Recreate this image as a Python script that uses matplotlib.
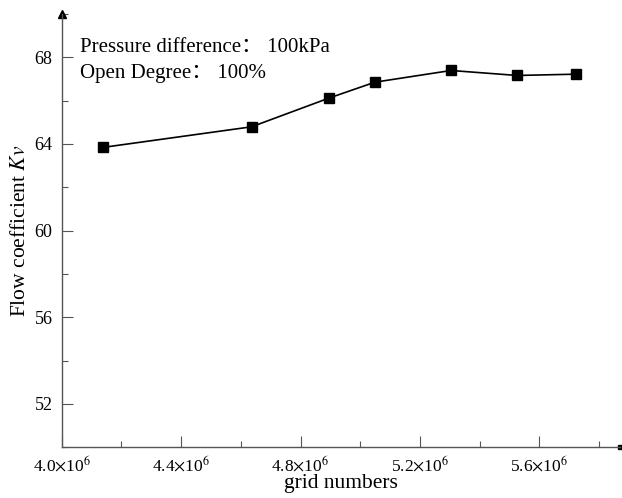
import numpy as np
import matplotlib
matplotlib.use("Agg")
from matplotlib import pyplot as plt
from matplotlib.ticker import MultipleLocator, FuncFormatter

plt.rcParams["font.family"] = ["Liberation Serif", "Noto Sans CJK SC"]
plt.rcParams["mathtext.fontset"] = "stix"

# grid numbers vs flow coefficient Kv
grid_numbers = [4.139e6, 4.636e6, 4.894e6, 5.049e6, 5.304e6, 5.525e6, 5.723e6]
kv_values = [63.84, 64.79, 66.11, 66.85, 67.39, 67.16, 67.22]

axis_color = "#555555"

fig = plt.figure(figsize=(6.22, 4.98), dpi=100)
ax = fig.add_axes([0.099, 0.102, 0.898, 0.870])

ax.plot(grid_numbers, kv_values, color="black", lw=1.2, marker="s",
        markersize=6.5, markerfacecolor="black", markeredgecolor="black")

ax.set_xlim(4.0e6, 5.87e6)
ax.set_ylim(50, 70)

ax.xaxis.set_major_locator(MultipleLocator(0.4e6))
ax.xaxis.set_minor_locator(MultipleLocator(0.2e6))
ax.yaxis.set_minor_locator(MultipleLocator(2))
ax.set_yticks([52, 56, 60, 64, 68])

ax.xaxis.set_major_formatter(FuncFormatter(lambda v, p: r"%.1f$\times$10$^{6}$" % (v / 1e6)))

ax.tick_params(which="both", direction="in", colors=axis_color, labelcolor="black")
ax.tick_params(which="major", length=8, width=0.8)
ax.tick_params(which="minor", length=4, width=0.8)
ax.tick_params(axis="x", pad=6, labelsize=12.5)
ax.tick_params(axis="y", pad=6.5, labelsize=13)

for s in ["top", "right"]:
    ax.spines[s].set_visible(False)
for s in ["left", "bottom"]:
    ax.spines[s].set_color(axis_color)
    ax.spines[s].set_linewidth(1.0)

# axis arrows
ax.plot(0, 1, marker="^", color="black", markersize=6, transform=ax.transAxes, clip_on=False)
ax.plot(1, 0, marker="s", color="black", markersize=3, transform=ax.transAxes, clip_on=False)

ax.set_xlabel("grid numbers", fontsize=15.5, labelpad=-1)
ax.set_ylabel(r"Flow coefficient $\mathit{Kv}$", fontsize=15.5, labelpad=3)

ax.text(0.033, 0.912, "Pressure difference： 100kPa", transform=ax.transAxes,
        fontsize=15, va="baseline", ha="left")
ax.text(0.033, 0.852, "Open Degree： 100%", transform=ax.transAxes,
        fontsize=15, va="baseline", ha="left")

plt.savefig("out.png", dpi=100)
plt.close()
